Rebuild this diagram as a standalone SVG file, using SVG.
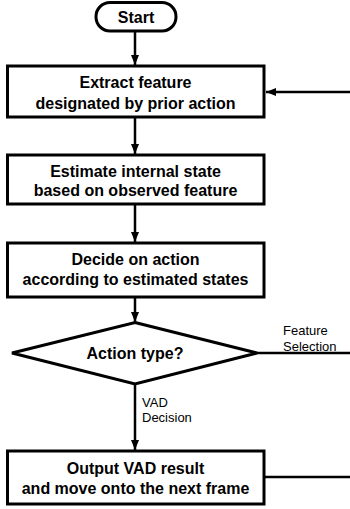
<svg xmlns="http://www.w3.org/2000/svg" width="350" height="509" viewBox="0 0 350 509">
<defs>
<style>
.box{fill:#fff;stroke:#000;stroke-width:3}
.t{font-family:"Liberation Sans",Arial,sans-serif;font-size:16px;font-weight:bold;text-anchor:middle;fill:#000}
.l{font-family:"Liberation Sans",Arial,sans-serif;font-size:13px;fill:#000}
.c{fill:none;stroke:#000;stroke-width:2.5}
</style>
<marker id="ah" viewBox="0 0 10 8" refX="10" refY="4" markerWidth="10" markerHeight="8" markerUnits="userSpaceOnUse" orient="auto">
<path d="M0,0 L10,4 L0,8 Z" fill="#000"/>
</marker>
</defs>
<rect width="350" height="509" fill="#fff"/>
<g id="connectors">
<line class="c" x1="135" y1="31" x2="135" y2="65" marker-end="url(#ah)"/>
<line class="c" x1="135" y1="117" x2="135" y2="154" marker-end="url(#ah)"/>
<line class="c" x1="135" y1="204" x2="135" y2="242" marker-end="url(#ah)"/>
<line class="c" x1="135" y1="297" x2="135" y2="322" marker-end="url(#ah)"/>
<line class="c" x1="135" y1="384" x2="135" y2="450" marker-end="url(#ah)"/>
<line class="c" x1="257" y1="353" x2="352" y2="353"/>
<line class="c" x1="264" y1="477" x2="352" y2="477"/>
<line class="c" x1="352" y1="92" x2="266" y2="92" marker-end="url(#ah)"/>
<text class="l" x="283" y="335">Feature</text>
<text class="l" x="283" y="351">Selection</text>
<text class="l" x="142" y="407">VAD</text>
<text class="l" x="142" y="422">Decision</text>
</g>
<g id="start">
<rect class="box" x="96" y="2.5" width="80" height="28.5" rx="14" ry="14" stroke-width="2.5"/>
<text class="t" x="136" y="23">Start</text>
</g>
<g id="extract">
<rect class="box" x="7.5" y="66" width="256.5" height="51"/>
<text class="t" x="135.5" y="88">Extract feature</text>
<text class="t" x="135.5" y="108.5">designated by prior action</text>
</g>
<g id="estimate">
<rect class="box" x="7.5" y="155" width="256.5" height="49"/>
<text class="t" x="135.5" y="176.5">Estimate internal state</text>
<text class="t" x="135.5" y="195.5">based on observed feature</text>
</g>
<g id="decide">
<rect class="box" x="7.5" y="243" width="256.5" height="54"/>
<text class="t" x="135.5" y="265">Decide on action</text>
<text class="t" x="135.5" y="284.5">according to estimated states</text>
</g>
<g id="action-type">
<polygon class="box" points="135,322.5 257,353 135,384 12,353" stroke-width="2.5"/>
<text class="t" x="135" y="359">Action type?</text>
</g>
<g id="output">
<rect class="box" x="7.5" y="451" width="256.5" height="53"/>
<text class="t" x="135.5" y="473.5">Output VAD result</text>
<text class="t" x="135.5" y="493.5">and move onto the next frame</text>
</g>
</svg>
